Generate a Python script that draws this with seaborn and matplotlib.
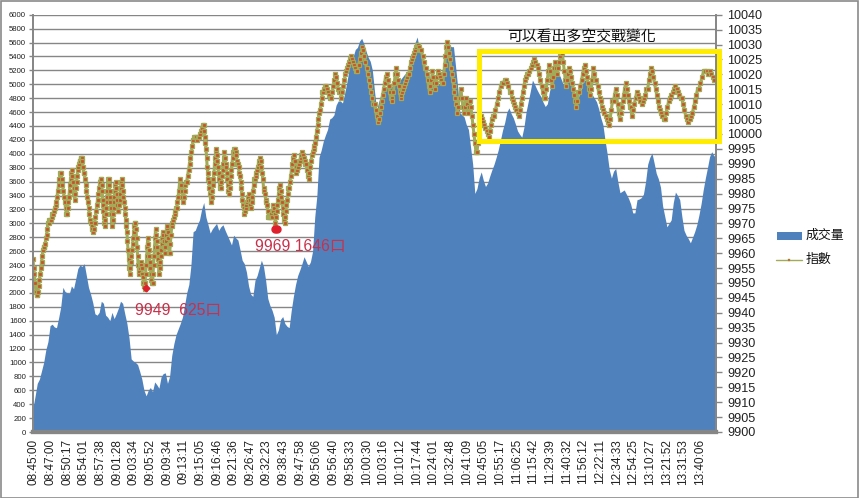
import numpy as np
import pandas as pd
import matplotlib
matplotlib.use("Agg")
import matplotlib.pyplot as plt
from matplotlib.lines import Line2D
from matplotlib.patches import Rectangle
import seaborn as sns

time_labels = ["08:45:00","08:47:00","08:50:17","08:54:01","08:57:38","09:01:28","09:03:34","09:05:52",
 "09:09:34","09:13:11","09:15:05","09:16:46","09:21:36","09:26:47","09:32:23","09:38:43","09:47:58",
 "09:56:06","09:56:40","09:58:33","10:00:30","10:03:16","10:10:12","10:17:44","10:24:01","10:32:48",
 "10:41:09","10:45:05","10:55:17","11:06:25","11:15:42","11:29:39","11:40:32","11:56:12","12:22:11",
 "12:34:33","12:54:25","13:10:27","13:21:52","13:31:53","13:40:06"]

volume_blocks = [
 [350,520,700,760,880,1000,1180,1300],
 [1530,1550,1510,1500,1640,1800,2080,2020],
 [2000,1990,2100,2060,2200,2350,2400,2380],
 [2420,2250,2080,1980,1860,1700,1680,1720],
 [1880,1850,1680,1650,1600,1720,1630,1700],
 [1780,1880,1850,1700,1560,1350,1050,1020],
 [1000,970,870,760,600,520,600,640],
 [580,720,680,630,790,840,850,700],
 [800,1100,1270,1400,1480,1560,1650,1820],
 [2000,2120,2400,2880,2900,2980,3050,3200],
 [3300,3090,2980,2860,2920,2960,3000,2900],
 [2950,2980,2900,2830,2760,2690,2830,2790],
 [2760,2620,2470,2420,2300,2100,1980,1950],
 [2180,2250,2360,2470,2380,2180,1920,1820],
 [1750,1650,1400,1470,1620,1660,1560,1520],
 [1500,1750,1950,2120,2250,2330,2420,2520],
 [2450,2380,2450,2600,3090,3400,3950,4050],
 [4180,4270,4350,4500,4520,4560,4700,4760],
 [4760,4730,4870,5020,5200,5330,5400,5500],
 [5530,5620,5660,5580,5480,5390,5330,5200],
 [4900,4630,4750,4850,4880,4930,4950,4940],
 [4970,4980,5000,5030,5060,5100,5140,5170],
 [5190,5260,5420,5600,5680,5500,5400,5300],
 [5230,5150,5080,5030,5010,4990,4990,5040],
 [5250,5480,5590,5560,5540,5540,5250,4950],
 [4590,4560,4530,4420,4350,4100,3850,3430],
 [3500,3650,3740,3620,3530,3580,3680,3770],
 [3850,3950,4060,4200,4340,4450,4600,4660],
 [4580,4520,4430,4330,4280,4240,4380,4600],
 [4750,4900,5060,5000,4930,4870,4820,4740],
 [4680,4720,4900,5020,5080,5120,5160,5110],
 [5030,4960,5050,5200,5080,4960,4790,4780],
 [4850,4950,5060,5060,4980,4910,4850,4800],
 [4750,4650,4520,4420,4200,4000,3770,3650],
 [3750,3790,3600,3440,3460,3480,3420,3360],
 [3280,3150,3150,3340,3350,3370,3420,3600],
 [3850,3950,4010,3870,3720,3640,3520,3250],
 [3100,2950,3000,3050,3300,3450,3400,3340],
 [3100,2900,2830,2780,2720,2800,2880,2980],
 [3120,3280,3480,3650,3800,3960,4030,3970],
 [3980],
]

index_blocks = [
 [9958,9955,9953,9950,9947,9946,9946,9947,9949,9951,9953,9955,9957,9959,9961,9962,9962,9963,9965,9966,9968,9970,9970,9971],
 [9971,9971,9972,9973,9973,9974,9975,9976,9977,9979,9981,9983,9985,9987,9987,9985,9983,9981,9979,9977,9975,9973],
 [9973,9975,9977,9979,9981,9983,9985,9987,9988,9986,9984,9982,9980,9978,9980,9982,9984,9986,9988,9989,9990,9991,9991,9992,9992,9992,9991,9989,9987],
 [9987,9985,9983,9981,9979,9977,9975,9973,9971,9970,9969,9968,9967,9968,9970,9972,9974,9976,9978,9980,9982,9984,9985],
 [9985,9983,9981,9978,9976,9974,9972,9970,9969,9971,9973,9975,9977,9979,9981,9983,9985,9985,9983,9981,9979,9977,9975,9973,9971,9969,9971,9973,9975,9977,9979,9981,9983,9984,9982,9980,9978,9976,9974],
 [9974,9976,9978,9980,9982,9984,9985,9983,9981,9979,9977,9975,9973,9971,9969,9967,9964,9961,9958,9955,9953,9955,9957,9959,9961,9963,9965,9967,9969,9970],
 [9970,9968,9965,9962,9959,9956,9953,9954,9955,9956,9957,9956,9955,9953,9952,9950,9949,9948,9950,9953,9956,9959,9962,9965,9963,9961,9959,9957,9955,9953,9951,9950],
 [9950,9953,9956,9959,9962,9965,9968,9966,9964,9962,9960,9958,9956,9953,9955,9957,9959,9961,9963,9965,9967,9966,9964,9962,9960,9962,9964,9966,9968,9969,9967,9965,9963,9960],
 [9960,9963,9966,9969,9970,9971,9972,9973,9974,9975,9975,9977,9979,9981,9983,9985,9983,9981,9979,9977,9979,9981,9983,9984],
 [9984,9986,9988,9990,9992,9994,9996,9998,9999,9999,9999,9998,9999,9999,10000,10001,10002,10003],
 [10003,10001,9999,9997,9995,9992,9989,9987,9985,9984,9982,9980,9979,9977,9979,9981,9983,9985,9987,9990,9992,9994,9995,9993,9991,9989,9987,9985,9983,9982],
 [9982,9984,9986,9988,9990,9992,9994,9992,9990,9989,9987,9985,9983,9981,9980,9982,9984,9986,9988,9990,9992,9994,9994,9995,9995,9994,9993,9991,9990],
 [9990,9989,9987,9986,9984,9982,9980,9978,9976,9975,9973,9974,9975,9976,9977,9978,9979,9980,9978,9976,9975,9977,9979,9981,9983,9985],
 [9985,9986,9987,9988,9989,9990,9991,9992,9991,9989,9987,9985,9982,9981,9980,9978,9977,9976,9974,9972,9972,9972,9973,9972],
 [9972,9974,9976,9975,9973,9970,9972,9974,9976,9978,9980,9982,9983,9981,9979,9977,9975,9973,9971,9970,9972,9974,9976,9978,9980,9982],
 [9982,9984,9986,9988,9990,9992,9993,9991,9989,9987,9988,9989,9990,9991,9992,9993,9994,9993,9992,9991,9990],
 [9990,9988,9986,9985,9987,9989,9991,9993,9994,9995,9996,9997,9999,10001,10003,10005,10007,10008,10010,10012,10014],
 [10014,10015,10016,10016,10015,10014,10013,10012,10012,10014,10016,10018,10020,10019,10017,10015,10014],
 [10014,10012,10014,10016,10018,10020,10021,10022,10023,10024,10025,10026,10025,10024,10023,10022,10021],
 [10021,10023,10025,10027,10029,10028,10026,10024,10022,10020,10018,10016,10014,10012,10010],
 [10010,10008,10006,10004,10005,10007,10009,10011,10013,10015,10017,10019,10020,10018,10016,10014,10012],
 [10012,10011,10014,10017,10020,10022,10020,10018,10016,10014,10012,10013,10014,10015,10016,10017,10018,10019,10020],
 [10020,10022,10024,10025,10026,10027,10028,10029,10030,10030,10029,10028,10028,10026,10024,10022],
 [10022,10020,10018,10016,10014,10016,10018,10021,10019,10017,10015,10017,10019,10021,10020,10019,10018,10017],
 [10017,10020,10023,10026,10029,10031,10029,10027,10025,10022,10020,10018,10016,10014,10012,10010,10007,10009,10012],
 [10012,10015,10012,10009,10007,10009,10012,10010,10007,10009,10011,10009,10006,10003,10000,9997,9994],
 [9994,9997,10000,10003,10006,10005,10004,10003,10002,10001,10000,9999,10001,10003,10005,10006],
 [10006,10008,10010,10012,10014,10016,10017,10017,10018,10018,10017,10016,10014],
 [10014,10012,10011,10010,10009,10008,10007,10006,10008,10010,10012,10014,10016,10018,10019,10020],
 [10020,10021,10022,10023,10024,10025,10024,10023,10022,10020,10018,10016,10014,10012],
 [10012,10015,10018,10021,10023,10021,10018,10016,10019,10022,10024,10022,10020,10022,10024,10026,10027],
 [10027,10024,10021,10018,10016,10018,10020,10022,10021,10019,10017,10015,10013,10011,10009,10011,10014],
 [10014,10016,10018,10020,10022,10023,10021,10019,10017,10015,10013,10015,10018,10022,10020,10018],
 [10018,10016,10014,10012,10011,10009,10008,10007,10006,10005,10004,10003,10005,10008,10011],
 [10011,10013,10015,10013,10010,10007,10005,10007,10009,10011,10013,10015,10017,10015,10013,10011,10009],
 [10009,10006,10008,10010,10012,10014,10013,10012,10011,10010,10011,10012,10013,10015],
 [10015,10018,10020,10022,10021,10019,10017,10015,10013,10011,10009,10008,10007,10006,10005],
 [10005,10007,10009,10011,10012,10013,10014,10015,10016,10015,10014,10013,10012],
 [10012,10010,10008,10006,10005,10004,10005,10006,10007,10009,10011,10013,10015],
 [10015,10017,10019,10021,10021,10021,10020,10021,10020,10019,10018],
]

left_ticks = list(range(0, 6001, 200))
right_ticks = list(range(9900, 10041, 5))
series_names = ["成交量", "指數"]
note_box = "可以看出多空交戰變化"
note_low = "9949  625口"
note_second = "9969 1646口"

W, H = 859, 498
L, R, T, B = 33, 716, 14.7, 432

sns.set_theme(style="white")
plt.rcParams["font.family"] = ["Liberation Sans", "Noto Sans CJK TC"]

BLUE = "#4F81BD"
GREY = "#868686"
OLIVE = "#A3AA58"
RUST = "#C8502C"
RED = "#C9304A"
YELLOW = "#FFEC00"

fig = plt.figure(figsize=(W / 100, H / 100), dpi=100, facecolor="white")
ax = fig.add_axes([L / W, 1 - B / H, (R - L) / W, (B - T) / H])
ax2 = ax.twinx()


def flatten(blocks):
    px, py = [], []
    for k, block in enumerate(blocks):
        px.extend(k + np.arange(len(block)) / len(block))
        py.extend(block)
    return px, py


xi, yi = flatten(index_blocks)
xv, yv = flatten(volume_blocks)
df_index = pd.DataFrame({"x": xi, "指數": yi})
df_vol = pd.DataFrame({"x": xv, "成交量": yv})

ax.fill_between(df_vol["x"], df_vol["成交量"], 0, color=BLUE, lw=0, zorder=2)
sns.lineplot(data=df_index, x="x", y="指數", ax=ax2, sort=False, estimator=None, color=OLIVE, lw=2.2,
             marker="s", markersize=2.7, markerfacecolor=RUST, markeredgecolor=OLIVE, markeredgewidth=0.9)

ax.set_xlim(0, len(index_blocks))
ax.set_ylim(0, 6000)
ax2.set_ylim(9900, 10040)
ax.set_yticks(left_ticks)
ax2.set_yticks(right_ticks)
# labels are 16.65 px apart on a 683 px wide plot
ax.set_xticks(np.arange(len(time_labels)) * 16.65 / (R - L) * len(index_blocks) + 0.05)
ax.set_xticklabels(time_labels, rotation=90, fontsize=8.5, color="#222222")
ax.grid(axis="y", color=GREY, lw=1, zorder=0)
ax.set_axisbelow(True)
ax.set_xlabel("")
ax.set_ylabel("")
ax2.set_xlabel("")
ax2.set_ylabel("")
ax.tick_params(axis="x", length=0, pad=5)
ax.tick_params(axis="y", length=3, width=1, color=GREY, labelsize=5.6, pad=2, left=True, labelcolor="#222222")
ax2.tick_params(axis="y", length=4, width=1, color=GREY, labelsize=9.1, pad=4, right=True, labelcolor="#222222")
for a in (ax, ax2):
    a.spines["top"].set_visible(False)
    a.spines["left"].set_color(GREY)
    a.spines["right"].set_color(GREY)
    a.spines["bottom"].set_color(GREY)
    a.spines["bottom"].set_linewidth(3)
    a.patch.set_alpha(0)
ax.set_zorder(1)
ax2.set_zorder(2)

ax2.plot([6.62], [9948.3], marker="D", ms=3.4, color="#E01F2D", zorder=6, ls="none")
ax2.plot([14.17, 14.27], [9968, 9968], marker="o", ms=5, color="#E01F2D", zorder=6, ls="none")


def fx(x):
    return x / W


def fy(y):
    return 1 - y / H


fig.text(fx(135), fy(311), note_low, color=RED, fontsize=11.3, va="center", ha="left")
fig.text(fx(255), fy(247), note_second, color=RED, fontsize=11.3, va="center", ha="left")
fig.text(fx(507), fy(37), note_box, color="#111111", fontsize=10.7, va="center", ha="left")

fig.add_artist(Rectangle((fx(478.5), fy(141.5)), 240 / W, 90 / H, transform=fig.transFigure,
                         fill=False, edgecolor=YELLOW, lw=3.6, zorder=10))
fig.add_artist(Rectangle((0.5 / W, 0.5 / H), (W - 1.5) / W, (H - 1.5) / H, transform=fig.transFigure,
                         fill=False, edgecolor="#8A8A8A", lw=1.2, zorder=11))

fig.add_artist(Rectangle((fx(777), fy(240)), 25 / W, 8 / H, transform=fig.transFigure, color=BLUE, lw=0))
fig.add_artist(Line2D([fx(776), fx(802)], [fy(260), fy(260)], transform=fig.transFigure, color=OLIVE, lw=1))
fig.add_artist(Line2D([fx(789)], [fy(260)], transform=fig.transFigure, marker="s", ms=1.8,
                      markerfacecolor=RUST, markeredgecolor=OLIVE, markeredgewidth=0.3, ls="none"))
fig.text(fx(805.5), fy(236), series_names[0], fontsize=9.3, va="center", ha="left", color="#111111")
fig.text(fx(805.5), fy(260), series_names[1], fontsize=9.3, va="center", ha="left", color="#111111")

fig.savefig("out.png", dpi=100)
